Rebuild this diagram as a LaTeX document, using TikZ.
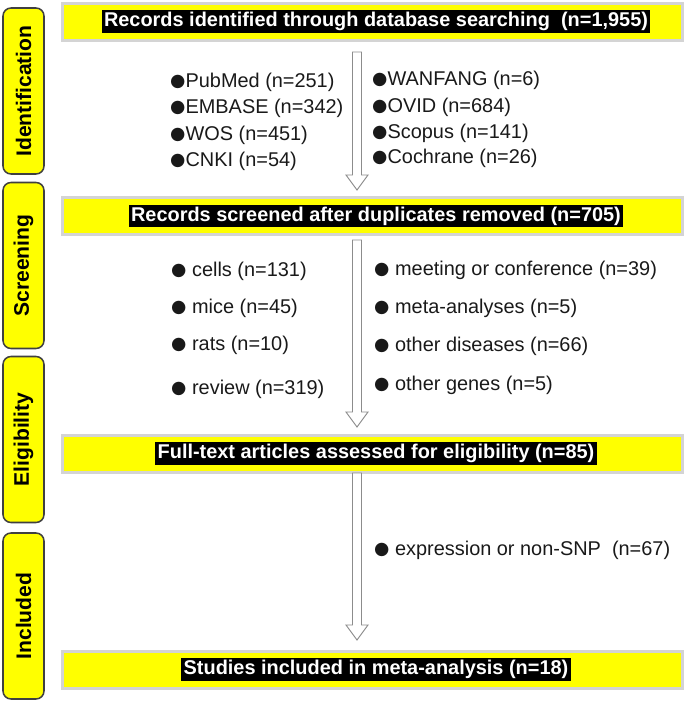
\documentclass[tikz,border=0pt]{standalone}
\usepackage{fontspec}
\setmainfont{Liberation Sans}
\newfontfamily\dotfont{DejaVu Sans}
\usetikzlibrary{positioning,calc}
\definecolor{barYellow}{RGB}{255,255,0}
\definecolor{barGray}{RGB}{212,212,212}
\definecolor{arrGray}{RGB}{140,140,140}
\def\px{0.03cm}
\newcommand{\dotb}{{\dotfont\fontsize{15}{15}\selectfont\raisebox{0.2pt}{\char"25CF}}}

\tikzset{
  stage/.style={draw=black!75, fill=barYellow, rounded corners=8*\px, line width=1.3pt,
    minimum width=166*\px, minimum height=41*\px, inner sep=0pt, rotate=90,
    font=\fontsize{18}{20}\selectfont\bfseries},
  bar/.style={draw=barGray, fill=barYellow, line width=3*\px,
    minimum width=620*\px, minimum height=37*\px, inner sep=0pt},
  lbl/.style={fill=black, text=white, inner xsep=2pt, inner ysep=1.5pt,
    font=\fontsize{17}{20}\selectfont\bfseries},
  item/.style={anchor=west, inner sep=0pt, text=black!90},
  hollow/.style={draw=arrGray, fill=white, line width=0.8pt}
}

\begin{document}
\begin{tikzpicture}[x=\px, y=-\px, font=\fontsize{17}{20}\selectfont]
  \useasboundingbox (0,0) rectangle (685,701);

  % Phases on the left
  \node[stage] (ident) at (23.5,91) {Identification};
  \node[stage] (screen) at (23.5,265.5) {Screening};
  \node[stage] (elig) at (23.5,439.5) {Eligibility};
  \node[stage] (incl) at (23.5,616) {Included};

  % Yellow bars
  \node[bar] (rec) at (372,21.5) {};
  \node[bar] (scr) at (372,216) {};
  \node[bar] (full) at (372,453.5) {};
  \node[bar] (stud) at (372,669.5) {};
  \node[lbl] (recT) at (376,21.5) {Records identified through database searching\ \ (n=1,955)};
  \node[lbl] (scrT) at (376,216) {Records screened after duplicates removed (n=705)};
  \node[lbl] (fullT) at (376,453.5) {Full-text articles assessed for eligibility (n=85)};
  \node[lbl] (studT) at (376,669.5) {Studies included in meta-analysis (n=18)};

  % Arrows
  \coordinate (a1) at (357,52);
  \coordinate (b1) at (357,190);
  \coordinate (a2) at (357,240);
  \coordinate (b2) at (357,427);
  \coordinate (a3) at (357,473);
  \coordinate (b3) at (357,640);
  \foreach \a/\b in {a1/b1,a2/b2,a3/b3}
    \draw[hollow] ($(\a)+(-4.5,0)$) -- ($(\b)+(-4.5,-15)$) -- ($(\b)+(-11,-15)$) -- (\b)
      -- ($(\b)+(11,-15)$) -- ($(\b)+(4.5,-15)$) -- ($(\a)+(4.5,0)$) -- cycle;

  % Databases
  \node[item] (pubmed) at (170,82) {\dotb PubMed (n=251)};
  \node[item] (embase) at (170,108) {\dotb EMBASE (n=342)};
  \node[item] (wos) at (170,135) {\dotb WOS (n=451)};
  \node[item] (cnki) at (170,161) {\dotb CNKI (n=54)};
  \node[item] (wanfang) at (372,80) {\dotb WANFANG (n=6)};
  \node[item] (ovid) at (372,107) {\dotb OVID (n=684)};
  \node[item] (scopus) at (372,133) {\dotb Scopus (n=141)};
  \node[item] (cochrane) at (372,158) {\dotb Cochrane (n=26)};

  % Excluded at screening
  \node[item] (cells) at (171,271) {\dotb\ cells (n=131)};
  \node[item] (mice) at (171,308) {\dotb\ mice (n=45)};
  \node[item] (rats) at (171,345) {\dotb\ rats (n=10)};
  \node[item] (review) at (171,389) {\dotb\ review (n=319)};
  \node[item] (meet) at (374,270) {\dotb\ meeting or conference (n=39)};
  \node[item] (meta) at (374,308) {\dotb\ meta-analyses (n=5)};
  \node[item] (dis) at (374,346) {\dotb\ other diseases (n=66)};
  \node[item] (genes) at (374,385) {\dotb\ other genes (n=5)};

  % Excluded at eligibility
  \node[item] (expr) at (374,550) {\dotb\ expression or non-SNP\ \ (n=67)};
\end{tikzpicture}
\end{document}
